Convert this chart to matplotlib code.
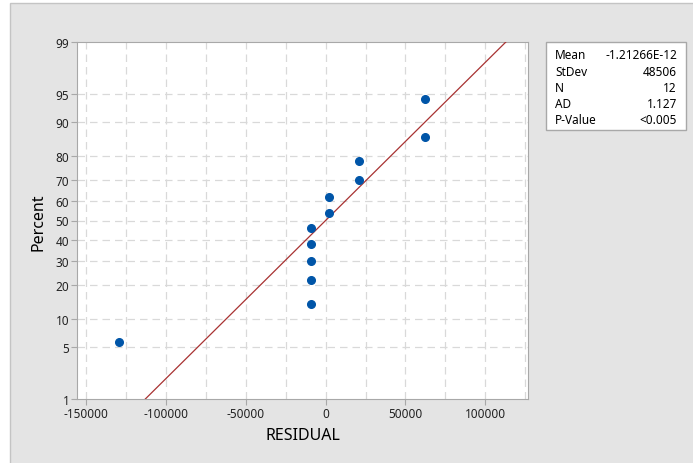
import matplotlib
matplotlib.use("Agg")
import matplotlib.pyplot as plt
from matplotlib.patches import Rectangle
from statistics import NormalDist
import numpy as np

plt.rcParams['font.family'] = ['Noto Sans', 'DejaVu Sans']

# residuals
residuals = [-129400, -8900, -8900, -8900, -8900, -8900,
             2300, 2300, 21000, 21000, 62500, 62500]
pct_ticks = [1, 5, 10, 20, 30, 40, 50, 60, 70, 80, 90, 95, 99]
x_ticks = [-150000, -100000, -50000, 0, 50000, 100000]
stat_names = ["Mean", "StDev", "N", "AD", "P-Value"]
stat_values = ["-1.21266E-12", "48506", "12", "1.127", "<0.005"]
mean_val = -1.21266e-12
sd_val = 48506

nd = NormalDist()
W, H = 693, 464
fig = plt.figure(figsize=(W / 100, H / 100), dpi=100, facecolor='white')

# grey panel behind everything
fig.patches.append(Rectangle((10 / W, -0.01), 1.02 - 10 / W, 1 - 4 / H + 0.01,
                             transform=fig.transFigure, facecolor='#e4e4e4',
                             edgecolor='#c4c4c4', lw=1, zorder=-5))

ax = fig.add_axes([77 / W, (H - 400) / H, (528 - 77) / W, (400 - 43) / H])
ax.set_facecolor('white')

# median rank plotting positions
n = len(residuals)
xs = np.sort(residuals)
ranks = [(i - 0.3) / (n + 0.4) for i in range(1, n + 1)]
z = [nd.inv_cdf(p) for p in ranks]

# fitted normal line
zlo, zhi = nd.inv_cdf(0.01), nd.inv_cdf(0.99)
zl = np.array([zlo, zhi])
ax.plot(mean_val + sd_val * zl, zl, color='#a83232', lw=0.9, zorder=3)
ax.plot(xs, z, 'o', color='#0055a8', markersize=5.5, zorder=4)

ax.set_xlim(-155600, 126700)
ax.set_ylim(zlo, zhi)

ax.set_xticks(x_ticks)
ax.set_xticklabels([str(t) for t in x_ticks])
ax.set_yticks([nd.inv_cdf(p / 100) for p in pct_ticks])
ax.set_yticklabels([str(p) for p in pct_ticks])

gridkw = dict(color='#d9d9d9', lw=0.9, ls=(0, (6, 4)), zorder=1)
for gx in range(-150000, 125001, 25000):
    ax.axvline(gx, **gridkw)
for p in pct_ticks[1:-1]:
    ax.axhline(nd.inv_cdf(p / 100), **gridkw)

for s in ax.spines.values():
    s.set_color('#a8a8a8')
ax.tick_params(direction='out', length=4, color='#a8a8a8', labelsize=8.5,
               labelcolor='#222222')
ax.tick_params(axis='x', pad=2)
ax.tick_params(axis='y', pad=1.5)

fig.text(303 / W, 1 - 436 / H, "RESIDUAL", fontsize=11.5, ha='center', va='center')
fig.text(39 / W, 1 - 222 / H, "Percent", fontsize=11.5, rotation=90,
         ha='center', va='center')

# stats box
fig.patches.append(Rectangle((546 / W, 1 - 131 / H), (686 - 546) / W, (131 - 43) / H,
                             transform=fig.transFigure, facecolor='white',
                             edgecolor='#a8a8a8', lw=1, zorder=2))
for i, (nm, v) in enumerate(zip(stat_names, stat_values)):
    yy = 1 - (55.7 + i * 16.3) / H
    fig.text(555 / W, yy, nm, fontsize=8.5, ha='left', va='center', zorder=3)
    fig.text(677 / W, yy, v, fontsize=8.5, ha='right', va='center', zorder=3)

fig.savefig("out.png", dpi=100, facecolor=fig.get_facecolor())
